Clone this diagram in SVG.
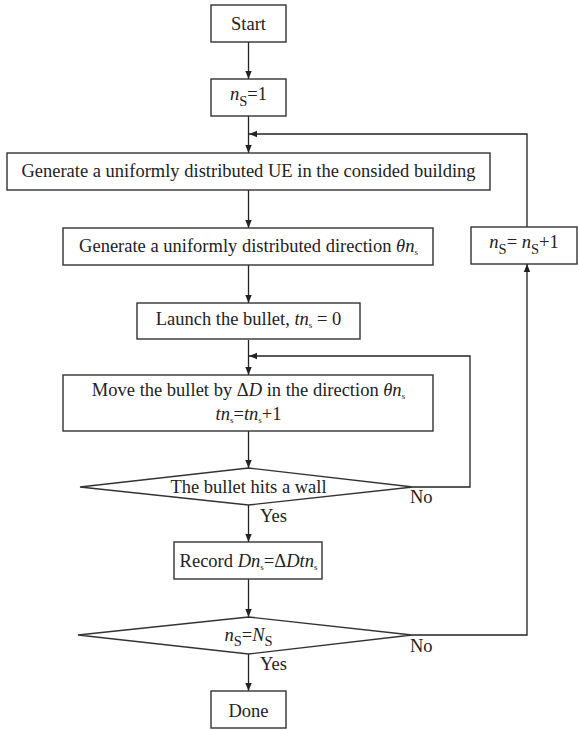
<svg xmlns="http://www.w3.org/2000/svg" width="578" height="730" viewBox="0 0 578 730">
<defs>
<marker id="arr" markerWidth="8" markerHeight="8" refX="8" refY="4" orient="auto" markerUnits="userSpaceOnUse">
<path d="M0,0.8 L8,4 L0,7.2 Z" fill="#222"/>
</marker>
<style>
.box{fill:#fff;stroke:#333;stroke-width:1.4}
.ln{fill:none;stroke:#222;stroke-width:1.3}
text{font-family:"Liberation Serif","Times New Roman",serif;font-size:18.5px;fill:#222}
.c{text-anchor:middle}
.i{font-style:italic}
.sb{font-size:14.5px}
.ss{font-size:9px}
</style>
</defs>
<rect width="578" height="730" fill="#fff"/>
<g id="connectors">
<path class="ln" d="M248.5,42 V79" marker-end="url(#arr)"/>
<path class="ln" d="M248.5,116 V153" marker-end="url(#arr)"/>
<path class="ln" d="M527,227 V134 H249" marker-end="url(#arr)"/>
<path class="ln" d="M248.5,190 V228" marker-end="url(#arr)"/>
<path class="ln" d="M248.5,265 V303" marker-end="url(#arr)"/>
<path class="ln" d="M248.5,340 V375" marker-end="url(#arr)"/>
<path class="ln" d="M413,487 H470 V356 H249" marker-end="url(#arr)"/>
<path class="ln" d="M248.5,431 V468" marker-end="url(#arr)"/>
<path class="ln" d="M248.5,505 V542" marker-end="url(#arr)"/>
<path class="ln" d="M248.5,579 V617" marker-end="url(#arr)"/>
<path class="ln" d="M412,635 H527 V264" marker-end="url(#arr)"/>
<path class="ln" d="M248.5,654 V691" marker-end="url(#arr)"/>
<text x="410" y="503">No</text>
<text x="260" y="522">Yes</text>
<text x="410" y="652">No</text>
<text x="260" y="670">Yes</text>
</g>
<g id="start">
<rect class="box" x="211" y="5" width="75" height="37"/>
<text class="c" x="248.5" y="30">Start</text>
</g>
<g id="init">
<rect class="box" x="211" y="79" width="75" height="37"/>
<text class="c" x="248.5" y="100"><tspan class="i">n</tspan><tspan class="sb" dy="6">S</tspan><tspan dy="-6">=1</tspan></text>
</g>
<g id="gen-ue">
<rect class="box" x="7" y="153" width="483" height="37"/>
<text class="c" x="248.5" y="177">Generate a uniformly distributed UE in the consided building</text>
</g>
<g id="gen-dir">
<rect class="box" x="63" y="228" width="370" height="37"/>
<text class="c" x="248.5" y="252">Generate a uniformly distributed direction <tspan class="i">θn</tspan><tspan class="ss" dy="3">s</tspan></text>
</g>
<g id="incr">
<rect class="box" x="471" y="227" width="106" height="37"/>
<text class="c" x="524" y="248"><tspan class="i">n</tspan><tspan class="sb" dy="6">S</tspan><tspan dy="-6">= </tspan><tspan class="i">n</tspan><tspan class="sb" dy="6">S</tspan><tspan dy="-6">+1</tspan></text>
</g>
<g id="launch">
<rect class="box" x="137" y="303" width="223" height="36"/>
<text class="c" x="248.5" y="325">Launch the bullet, <tspan class="i">tn</tspan><tspan class="ss" dy="3">s</tspan><tspan dy="-3"> = 0</tspan></text>
</g>
<g id="move">
<rect class="box" x="63" y="375" width="370" height="56"/>
<text class="c" x="248.5" y="396">Move the bullet by Δ<tspan class="i">D</tspan> in the direction <tspan class="i">θn</tspan><tspan class="ss" dy="3">s</tspan></text>
<text class="c" x="248.5" y="420"><tspan class="i">tn</tspan><tspan class="ss" dy="3">s</tspan><tspan dy="-3">=</tspan><tspan class="i">tn</tspan><tspan class="ss" dy="3">s</tspan><tspan dy="-3">+1</tspan></text>
</g>
<g id="hit-wall">
<polygon class="box" points="80,487 248.5,468 413,487 248.5,505"/>
<text class="c" x="248.5" y="493">The bullet hits a wall</text>
</g>
<g id="record">
<rect class="box" x="174" y="542" width="148" height="37"/>
<text class="c" x="248.5" y="567">Record <tspan class="i">Dn</tspan><tspan class="ss" dy="3">s</tspan><tspan dy="-3">=Δ</tspan><tspan class="i">Dtn</tspan><tspan class="ss" dy="3">s</tspan></text>
</g>
<g id="check">
<polygon class="box" points="78,635 248.5,617 412,635 248.5,654"/>
<text class="c" x="248.5" y="641"><tspan class="i">n</tspan><tspan class="sb" dy="5">S</tspan><tspan dy="-5">=</tspan><tspan class="i">N</tspan><tspan class="sb" dy="5">S</tspan></text>
</g>
<g id="done">
<rect class="box" x="211" y="691" width="75" height="37"/>
<text class="c" x="248.5" y="717">Done</text>
</g>
</svg>
